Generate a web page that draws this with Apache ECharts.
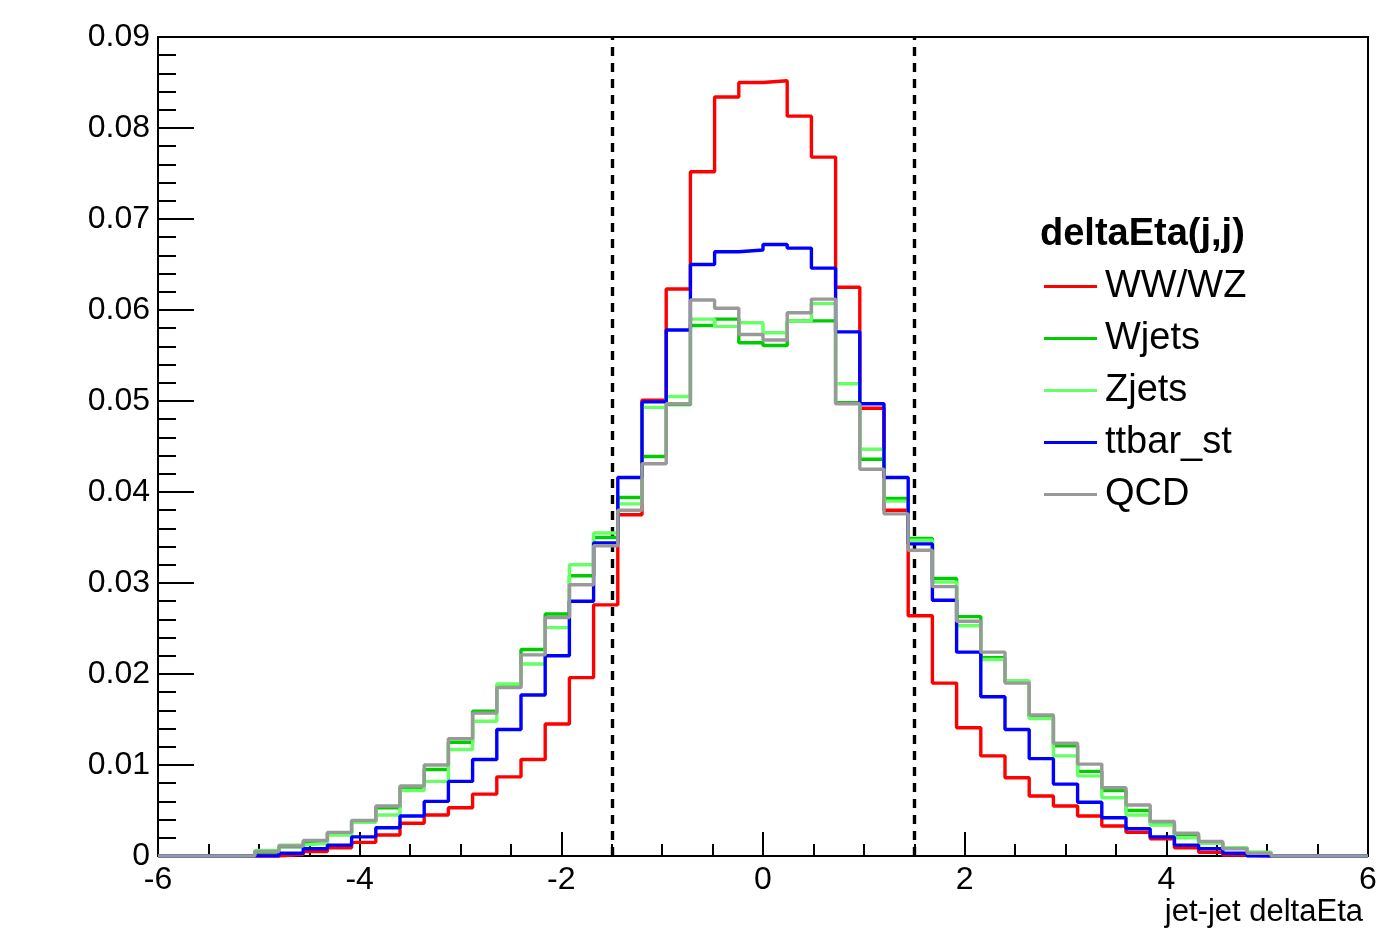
<!DOCTYPE html>
<html>
<head>
<meta charset="utf-8">
<title>jet-jet deltaEta</title>
<script src="https://cdn.jsdelivr.net/npm/echarts@6/dist/echarts.min.js"></script>
<style>
  html, body { margin: 0; padding: 0; background: #fff; }
  #chart { width: 1397px; height: 952px; }
</style>
</head>
<body>
<div id="chart"></div>
<script>
// histogram binning: 50 bins from -6 to 6
const xMin = -6;
const xMax = 6;
const binWidth = 0.24;
const binEdges = Array.from({ length: 51 }, (_, i) => +(xMin + binWidth * i).toFixed(2));

const xTicks = [-6, -4, -2, 0, 2, 4, 6];
const yTicks = [0, 0.01, 0.02, 0.03, 0.04, 0.05, 0.06, 0.07, 0.08, 0.09];
const cutLines = [-1.5, 1.5];

const seriesNames = ['WW/WZ', 'Wjets', 'Zjets', 'ttbar_st', 'QCD'];
const seriesColors = ['#ff0000', '#00cc00', '#66ff66', '#0000ff', '#999999'];

// bin contents (normalised)
const wwwz = [
  0, 0, 0, 0, 0, 0.0002, 0.0005, 0.0009, 0.0015, 0.0023,
  0.0036, 0.0045, 0.0053, 0.0068, 0.0087, 0.0106, 0.0145, 0.0196, 0.0276, 0.0375,
  0.0501, 0.0623, 0.0752, 0.0834, 0.0850, 0.0852, 0.0813, 0.0768, 0.0625, 0.0492,
  0.0380, 0.0264, 0.0190, 0.0141, 0.0110, 0.0086, 0.0066, 0.0055, 0.0044, 0.0033,
  0.0026, 0.0019, 0.0009, 0.0004, 0.0001, 0, 0, 0, 0, 0
];
const wjets = [
  0, 0, 0, 0, 0.0004, 0.0010, 0.0015, 0.0025, 0.0038, 0.0053,
  0.0075, 0.0095, 0.0125, 0.0159, 0.0188, 0.0227, 0.0266, 0.0308, 0.0350, 0.0394,
  0.0439, 0.0496, 0.0583, 0.0590, 0.0564, 0.0561, 0.0588, 0.0588, 0.0498, 0.0436,
  0.0393, 0.0349, 0.0305, 0.0263, 0.0218, 0.0192, 0.0153, 0.0121, 0.0093, 0.0072,
  0.0050, 0.0036, 0.0022, 0.0014, 0.0009, 0.0004, 0, 0, 0, 0
];
const zjets = [
  0, 0, 0, 0, 0.0006, 0.0012, 0.0014, 0.0023, 0.0037, 0.0045,
  0.0072, 0.0082, 0.0117, 0.0148, 0.0189, 0.0211, 0.0251, 0.0320, 0.0355, 0.0387,
  0.0493, 0.0505, 0.0590, 0.0582, 0.0586, 0.0575, 0.0588, 0.0607, 0.0519, 0.0447,
  0.0390, 0.0347, 0.0301, 0.0253, 0.0216, 0.0192, 0.0151, 0.0110, 0.0088, 0.0064,
  0.0045, 0.0034, 0.0020, 0.0014, 0.0009, 0.0004, 0, 0, 0, 0
];
const ttbarSt = [
  0, 0, 0, 0, 0, 0.0003, 0.0008, 0.0012, 0.0021, 0.0031,
  0.0044, 0.0060, 0.0082, 0.0106, 0.0139, 0.0177, 0.0220, 0.0280, 0.0344, 0.0416,
  0.0499, 0.0578, 0.0650, 0.0664, 0.0666, 0.0672, 0.0668, 0.0646, 0.0576, 0.0497,
  0.0416, 0.0343, 0.0281, 0.0224, 0.0175, 0.0139, 0.0107, 0.0079, 0.0059, 0.0042,
  0.0030, 0.0021, 0.0012, 0.0008, 0.0003, 0, 0, 0, 0, 0
];
const qcd = [
  0, 0, 0, 0, 0.0005, 0.0011, 0.0017, 0.0026, 0.0039, 0.0055,
  0.0077, 0.0100, 0.0129, 0.0157, 0.0185, 0.0221, 0.0262, 0.0298, 0.0341, 0.0380,
  0.0431, 0.0497, 0.0611, 0.0602, 0.0573, 0.0567, 0.0597, 0.0612, 0.0497, 0.0425,
  0.0376, 0.0336, 0.0296, 0.0258, 0.0224, 0.0190, 0.0155, 0.0124, 0.0101, 0.0075,
  0.0056, 0.0038, 0.0025, 0.0016, 0.0008, 0.0003, 0, 0, 0, 0
];

const seriesValues = [wwwz, wjets, zjets, ttbarSt, qcd];

// points at the bin edges, step 'end' draws the histogram outline
function histPoints(values) {
  const pts = values.map((v, i) => [binEdges[i], v]);
  pts.push([binEdges[binEdges.length - 1], values[values.length - 1]]);
  return pts;
}

const font = '"Liberation Sans", Arial, Helvetica, sans-serif';

const series = seriesNames.map((name, k) => ({
  name: name,
  type: 'line',
  step: 'end',
  showSymbol: false,
  symbol: 'none',
  data: histPoints(seriesValues[k]),
  lineStyle: { color: seriesColors[k], width: 3.4 },
  itemStyle: { color: seriesColors[k] },
  z: 2 + k
}));

// dashed cut lines
series[0].markLine = {
  silent: true,
  symbol: ['none', 'none'],
  label: { show: false },
  lineStyle: { color: '#000', type: [9, 7], width: 3.4 },
  data: cutLines.map(x => ({ xAxis: x })),
  z: 1
};

const chart = echarts.init(document.getElementById('chart'));
chart.setOption({
  animation: false,
  backgroundColor: '#fff',
  grid: {
    left: 158, right: 29, top: 37, bottom: 96,
    show: true, borderColor: '#000', borderWidth: 2
  },
  xAxis: {
    type: 'value',
    min: xMin, max: xMax, interval: 2,
    axisLine: { show: true, onZero: false, lineStyle: { color: '#000', width: 2 } },
    axisTick: { show: true, inside: true, length: 24, lineStyle: { color: '#000', width: 2 } },
    minorTick: { show: true, splitNumber: 4, length: 12, lineStyle: { color: '#000', width: 2 } },
    splitLine: { show: false },
    axisLabel: {
      color: '#000', fontSize: 32, fontFamily: font, margin: 8,
      formatter: v => xTicks.includes(v) ? String(v) : ''
    }
  },
  yAxis: {
    type: 'value',
    min: 0, max: 0.09, interval: 0.01,
    axisLine: { show: true, onZero: false, lineStyle: { color: '#000', width: 2 } },
    axisTick: { show: true, inside: true, length: 36, lineStyle: { color: '#000', width: 2 } },
    minorTick: { show: true, splitNumber: 5, length: 18, lineStyle: { color: '#000', width: 2 } },
    splitLine: { show: false },
    axisLabel: {
      color: '#000', fontSize: 32, fontFamily: font, margin: 8,
      formatter: v => {
        const t = yTicks.find(y => Math.abs(y - v) < 1e-9);
        if (t === undefined) return '';
        return t === 0 ? '0' : t.toFixed(2);
      }
    }
  },
  legend: {
    orient: 'vertical',
    left: 1044, top: 264, padding: 0,
    itemWidth: 53, itemHeight: 3, itemGap: 7,
    icon: 'rect',
    data: seriesNames,
    textStyle: { color: '#000', fontSize: 38, fontFamily: font, lineHeight: 45, padding: [0, 0, 0, 3] }
  },
  graphic: [
    {
      type: 'text', left: 1040, top: 216,
      style: { text: 'deltaEta(j,j)', fill: '#000', font: 'bold 38px ' + font }
    },
    {
      type: 'text', right: 34, top: 897,
      style: { text: 'jet-jet deltaEta', fill: '#000', font: '31px ' + font }
    }
  ],
  series: series
});
window.addEventListener('resize', function () {
  chart.resize();
});
</script>
</body>
</html>
